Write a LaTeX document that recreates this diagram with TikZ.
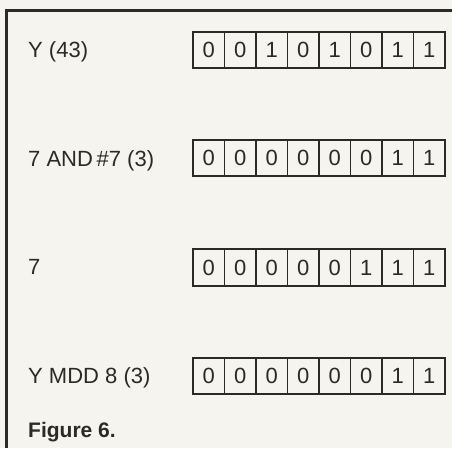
\documentclass[tikz,border=0pt]{standalone}
\usepackage{fontspec}
\setmainfont{Liberation Sans}
\definecolor{paper}{HTML}{F5F4EE}
\definecolor{ink}{HTML}{2A2A28}
\begin{document}
\begin{tikzpicture}[x=1pt,y=-1pt,
  bitbox/.style={draw=ink, line width=1.8pt, minimum width=31.5pt, minimum height=36.5pt,
    inner sep=0pt, text=ink, font=\fontsize{22}{22}\selectfont},
  rowlabel/.style={anchor=base west, inner sep=0pt, text=ink, font=\fontsize{22}{22}\selectfont},
  figcaption/.style={anchor=base west, inner sep=0pt, text=ink, font=\fontsize{21}{21}\selectfont\bfseries},
  framelines/.style={draw=ink, line width=2.7pt}]
\fill[paper] (0,0) rectangle (452,448);
\useasboundingbox (0,0) rectangle (452,448);
\draw[framelines] (6.7,448) -- (6.7,10.7) -- (452,10.7);
% rows
\foreach \r/\y/\bits in {1/50/{0,0,1,0,1,0,1,1}, 2/158/{0,0,0,0,0,0,1,1},
    3/267.5/{0,0,0,0,0,1,1,1}, 4/376/{0,0,0,0,0,0,1,1}}{
  \foreach \b [count=\i] in \bits {
    \node[bitbox] (r\r c\i) at ({193+31.5*(\i-0.5)},\y) {\b};
  }
}
\node[rowlabel] (l1) at (28,57.5) {Y (43)};
\node[rowlabel] (l2) at (28,166.5) {7 AND\,\#7 (3)};
\node[rowlabel] (l3) at (28,274) {7};
\node[rowlabel] (l4) at (28,383.5) {Y MDD 8 (3)};
\node[figcaption] (fig) at (28,437.5) {Figure 6.};
\end{tikzpicture}
\end{document}
